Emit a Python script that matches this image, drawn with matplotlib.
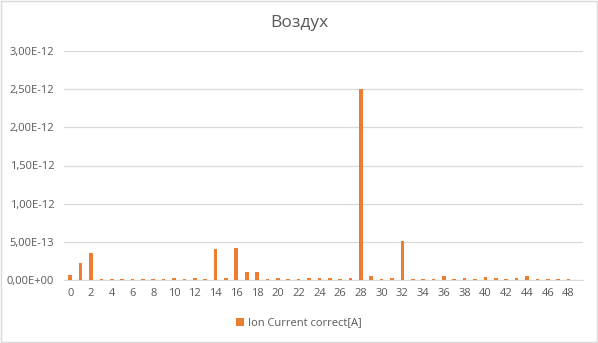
import matplotlib.pyplot as plt
import numpy as np
from matplotlib.ticker import FuncFormatter, MultipleLocator

# mass numbers 0..49 and measured ion current (A)
masses = list(range(50))
ion_current = [
    0.7e-13, 2.2e-13, 3.5e-13, 0.15e-13, 0.15e-13, 0.15e-13, 0.15e-13, 0.15e-13, 0.15e-13, 0.15e-13,
    0.3e-13, 0.15e-13, 0.3e-13, 0.15e-13, 4.0e-13, 0.3e-13, 4.15e-13, 1.1e-13, 1.1e-13, 0.15e-13,
    0.3e-13, 0.15e-13, 0.15e-13, 0.3e-13, 0.3e-13, 0.3e-13, 0.15e-13, 0.3e-13, 25.0e-13, 0.57e-13,
    0.15e-13, 0.3e-13, 5.05e-13, 0.15e-13, 0.15e-13, 0.15e-13, 0.57e-13, 0.15e-13, 0.3e-13, 0.15e-13,
    0.44e-13, 0.3e-13, 0.15e-13, 0.3e-13, 0.57e-13, 0.15e-13, 0.15e-13, 0.15e-13, 0.15e-13, 0.0,
]
series_name = "Ion Current correct[A]"
title = "Воздух"

text_color = "#595959"
bar_color = "#ED7D31"
plt.rcParams['font.family'] = ['Open Sans', 'DejaVu Sans']

fig = plt.figure(figsize=(5.98, 3.43), dpi=100)
ax = fig.add_axes([64 / 598, 1 - 280 / 343, (583 - 64) / 598, (280 - 51) / 343])

ax.bar(masses, ion_current, width=0.35, color=bar_color, label=series_name, zorder=3)

ax.set_xlim(-0.6, 49.4)
ax.set_ylim(0, 3.0e-12)
ax.yaxis.set_major_locator(MultipleLocator(0.5e-12))
ax.yaxis.set_major_formatter(FuncFormatter(lambda v, p: f"{v:.2E}".replace('.', ',')))
ax.set_xticks(masses[::2])
ax.set_xticklabels([str(m) for m in masses[::2]])

ax.grid(axis='y', color='#D9D9D9', linewidth=0.9, zorder=0)
for s in ['top', 'right', 'left']:
    ax.spines[s].set_visible(False)
ax.spines['bottom'].set_color('#D9D9D9')
ax.tick_params(axis='both', length=0, colors=text_color, labelsize=8)
ax.tick_params(axis='x', pad=6)
ax.tick_params(axis='y', pad=7)

fig.text(0.5, 1 - 23 / 343, title, ha='center', va='center', fontsize=12.5, color=text_color)

handles, labels = ax.get_legend_handles_labels()
fig.legend(handles, labels, loc='center', bbox_to_anchor=(0.5, 1 - 323 / 343), frameon=False,
           fontsize=8, labelcolor=text_color, handlelength=0.7, handleheight=0.7, handletextpad=0.4)

# chart area border
fig.patches.append(plt.Rectangle((0.001, 0.002), 0.997, 0.996, transform=fig.transFigure,
                                 fill=False, edgecolor='#D9D9D9', linewidth=1))

fig.savefig("out.png", dpi=100)
